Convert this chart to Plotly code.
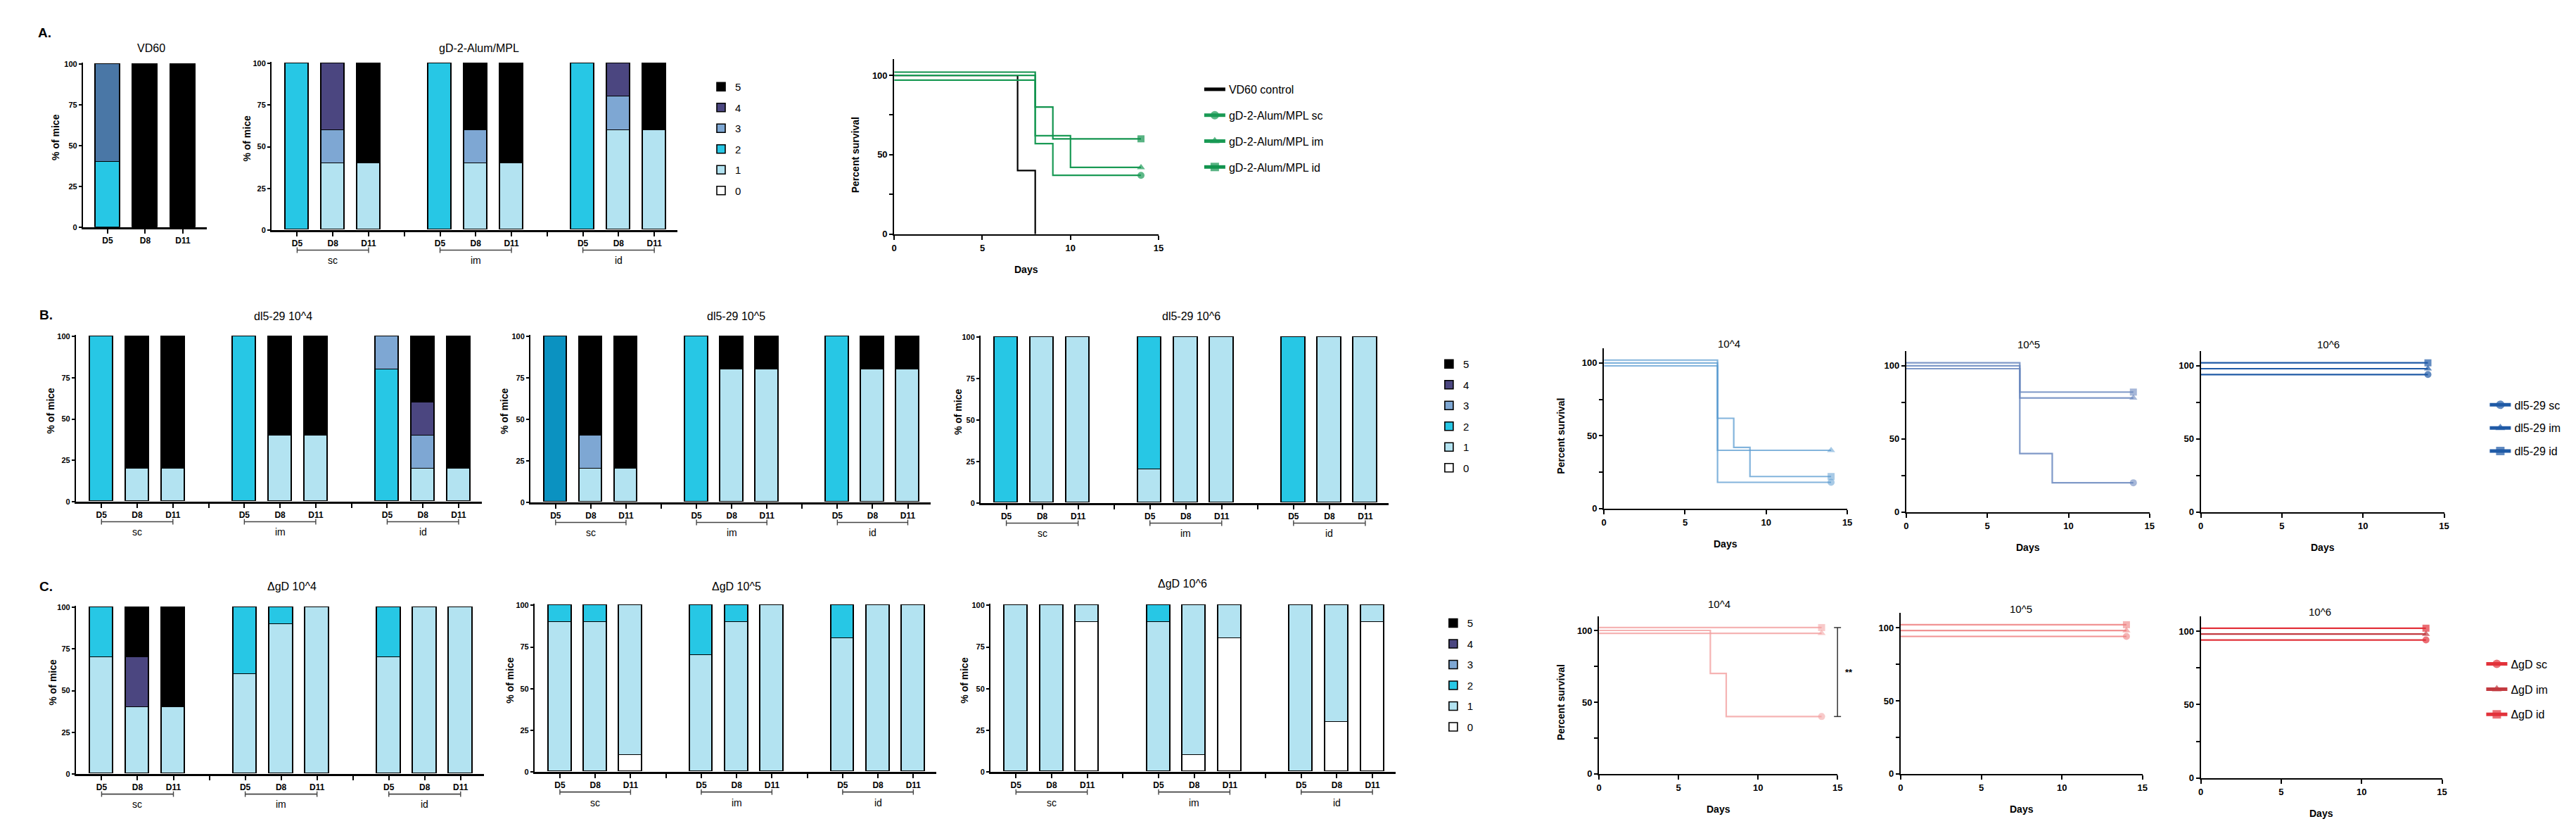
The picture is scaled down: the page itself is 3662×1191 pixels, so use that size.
import plotly.graph_objects as go

W, H = 3662, 1191

# ------------------------------------------------------------------ data
SCORE_LABELS = ["0", "1", "2", "3", "4", "5"]
DAY_LABELS = ["D5", "D8", "D11"]
ROUTE_LABELS = ["sc", "im", "id"]

# % of mice per clinical score (rows = score 0..5)
# columns: D5, D8, D11   (for 9 columns: sc D5-D11, im D5-D11, id D5-D11)
VD60_PCT = [
    [0, 0, 0],
    [0, 0, 0],
    [40, 0, 0],
    [60, 0, 0],
    [0, 0, 0],
    [0, 100, 100],
]
GD2_PCT = [
    [0, 0, 0, 0, 0, 0, 0, 0, 0],
    [0, 40, 40, 0, 40, 40, 0, 60, 60],
    [100, 0, 0, 100, 0, 0, 100, 0, 0],
    [0, 20, 0, 0, 20, 0, 0, 20, 0],
    [0, 40, 0, 0, 0, 0, 0, 20, 0],
    [0, 0, 60, 0, 40, 60, 0, 0, 40],
]
DL_1E4_PCT = [
    [0, 0, 0, 0, 0, 0, 0, 0, 0],
    [0, 20, 20, 0, 40, 40, 0, 20, 20],
    [100, 0, 0, 100, 0, 0, 80, 0, 0],
    [0, 0, 0, 0, 0, 0, 20, 20, 0],
    [0, 0, 0, 0, 0, 0, 0, 20, 0],
    [0, 80, 80, 0, 60, 60, 0, 40, 80],
]
DL_1E5_PCT = [
    [0, 0, 0, 0, 0, 0, 0, 0, 0],
    [0, 20, 20, 0, 80, 80, 0, 80, 80],
    [100, 0, 0, 100, 0, 0, 100, 0, 0],
    [0, 20, 0, 0, 0, 0, 0, 0, 0],
    [0, 0, 0, 0, 0, 0, 0, 0, 0],
    [0, 60, 80, 0, 20, 20, 0, 20, 20],
]
DL_1E6_PCT = [
    [0, 0, 0, 0, 0, 0, 0, 0, 0],
    [0, 100, 100, 20, 100, 100, 0, 100, 100],
    [100, 0, 0, 80, 0, 0, 100, 0, 0],
    [0, 0, 0, 0, 0, 0, 0, 0, 0],
    [0, 0, 0, 0, 0, 0, 0, 0, 0],
    [0, 0, 0, 0, 0, 0, 0, 0, 0],
]
DGD_1E4_PCT = [
    [0, 0, 0, 0, 0, 0, 0, 0, 0],
    [70, 40, 40, 60, 90, 100, 70, 100, 100],
    [30, 0, 0, 40, 10, 0, 30, 0, 0],
    [0, 0, 0, 0, 0, 0, 0, 0, 0],
    [0, 30, 0, 0, 0, 0, 0, 0, 0],
    [0, 30, 60, 0, 0, 0, 0, 0, 0],
]
DGD_1E5_PCT = [
    [0, 0, 10, 0, 0, 0, 0, 0, 0],
    [90, 90, 90, 70, 90, 100, 80, 100, 100],
    [10, 10, 0, 30, 10, 0, 20, 0, 0],
    [0, 0, 0, 0, 0, 0, 0, 0, 0],
    [0, 0, 0, 0, 0, 0, 0, 0, 0],
    [0, 0, 0, 0, 0, 0, 0, 0, 0],
]
DGD_1E6_PCT = [
    [0, 0, 90, 0, 10, 80, 0, 30, 90],
    [100, 100, 10, 90, 90, 20, 100, 70, 10],
    [0, 0, 0, 10, 0, 0, 0, 0, 0],
    [0, 0, 0, 0, 0, 0, 0, 0, 0],
    [0, 0, 0, 0, 0, 0, 0, 0, 0],
    [0, 0, 0, 0, 0, 0, 0, 0, 0],
]

# survival (Kaplan-Meier steps, as drawn incl. GraphPad's small offsets)
A_SURV_NAMES = ["VD60 control", "gD-2-Alum/MPL sc", "gD-2-Alum/MPL im", "gD-2-Alum/MPL id"]
A_SURV_DAYS = [[0, 7, 8], [0, 8, 9, 14], [0, 8, 10, 14], [0, 8, 9, 14]]
A_SURV_PCT = [[100, 40, 0], [97, 57, 37, 37], [100, 62, 42, 42], [102, 80, 60, 60]]

B_SURV_NAMES = ["dl5-29 sc", "dl5-29 im", "dl5-29 id"]
B_SURV_DAYS_1E4 = [[0, 7, 14], [0, 7, 14], [0, 7, 8, 9, 14]]
B_SURV_PCT_1E4 = [[98, 18, 18], [100, 40, 40], [102, 62, 42, 22, 22]]
B_SURV_DAYS_1E5 = [[0, 7, 9, 14], [0, 7, 14], [0, 7, 14]]
B_SURV_PCT_1E5 = [[98, 40, 20, 20], [100, 78, 78], [102, 82, 82]]
B_SURV_DAYS_1E6 = [[0, 14], [0, 14], [0, 14]]
B_SURV_PCT_1E6 = [[94, 94], [98, 98], [102, 102]]

C_SURV_NAMES = ["ΔgD sc", "ΔgD im", "ΔgD id"]
C_SURV_DAYS_1E4 = [[0, 7, 8, 14], [0, 14], [0, 14]]
C_SURV_PCT_1E4 = [[100, 70, 40, 40], [98, 98], [102, 102]]
C_SURV_DAYS_1E5 = [[0, 14], [0, 14], [0, 14]]
C_SURV_PCT_1E5 = [[94, 94], [98, 98], [102, 102]]
C_SURV_DAYS_1E6 = [[0, 14], [0, 14], [0, 14]]
C_SURV_PCT_1E6 = [[94, 94], [98, 98], [102, 102]]
C_SIG_LABEL = "**"

DOSE_TITLES = ["10^4", "10^5", "10^6"]

# ------------------------------------------------------------------ styles
SCORE_COLORS = ["#ffffff", "#b3e3f1", "#27c7e5", "#7ea7d3", "#4b4680", "#000000"]
FONT_N = "Liberation Sans Narrow, Arial Narrow, Liberation Sans, Arial, sans-serif"
FONT_B = "Liberation Sans, Arial, sans-serif"
SYMBOLS3 = ["circle", "triangle-up", "square"]
DAY_MAX = 15

fig = go.Figure()
layout = {}
shapes = []
annotations = []


def xname(i):
    return "x" if i == 1 else f"x{i}"


def yname(i):
    return "y" if i == 1 else f"y{i}"


def px_x(px):
    return px / W


def px_y(py):
    return 1 - py / H


def text(px, py, s, size, family=FONT_N, bold=False, angle=0, xanchor="center", yanchor="middle", color="black"):
    annotations.append(dict(
        x=px_x(px), y=px_y(py), xref="paper", yref="paper", text=s, showarrow=False,
        textangle=angle, xanchor=xanchor, yanchor=yanchor,
        font=dict(size=size, family=family, color=color, weight="bold" if bold else "normal"),
    ))


def bar_panel(idx, pct, left, right, top, bottom, title, title_x, title_y, ylab_x,
              legend=None, overrides=None):
    n = len(pct[0])
    if n == 3:
        xs = [0, 1, 2]
        rng = [-0.66, 2.64]
        tickvals = xs
        ticktext = DAY_LABELS
    else:
        xs = [4 * g + d for g in range(3) for d in range(3)]
        rng = [-0.72, 10.65]
        tickvals = xs + [3, 7]
        ticktext = DAY_LABELS * 3 + ["", ""]
    for s, row in enumerate(pct):
        colors = [SCORE_COLORS[s]] * n
        for (k, ss), c in (overrides or {}).items():
            if ss == s:
                colors[k] = c
        fig.add_trace(go.Bar(
            x=xs, y=row, width=0.65, name=SCORE_LABELS[s],
            marker=dict(color=colors, line=dict(color="black", width=1.6)),
            xaxis=xname(idx), yaxis=yname(idx),
            showlegend=legend is not None, legend=legend or "legend",
            legendgroup=f"{legend}-{s}", legendrank=100 - s, hoverinfo="skip",
        ))
    top_ext = top - 0.008 * (bottom - top)
    layout["xaxis" if idx == 1 else f"xaxis{idx}"] = dict(
        domain=[px_x(left), px_x(right)], range=rng, anchor=yname(idx),
        tickvals=tickvals, ticktext=ticktext, ticks="outside", ticklen=6, tickwidth=1.5,
        tickcolor="black", showline=True, linewidth=3, linecolor="black",
        showgrid=False, zeroline=False, fixedrange=True,
        tickfont=dict(size=12, family=FONT_N, color="black", weight="bold"),
    )
    layout["yaxis" if idx == 1 else f"yaxis{idx}"] = dict(
        domain=[px_y(bottom), px_y(top_ext)], range=[0, 100.8], anchor=xname(idx),
        tickvals=[0, 25, 50, 75, 100], ticks="outside", ticklen=4, tickwidth=1.5,
        tickcolor="black", showline=True, linewidth=1.6, linecolor="black",
        showgrid=False, zeroline=False, fixedrange=True,
        tickfont=dict(size=11, family=FONT_N, color="black", weight="bold"),
    )
    text(title_x, title_y, title, 16)
    text(ylab_x, (top + bottom) / 2 - 12, "% of mice", 14, family=FONT_B, bold=True, angle=-90)
    if n == 9:
        by = bottom + 29
        for g in range(3):
            x0, x1 = 4 * g, 4 * g + 2
            shapes.append(dict(type="line", xref=xname(idx), yref="paper", x0=x0, x1=x1,
                               y0=px_y(by), y1=px_y(by), line=dict(color="#444", width=1.6)))
            for xx in (x0, x1):
                shapes.append(dict(type="line", xref=xname(idx), yref="paper", x0=xx, x1=xx,
                                   y0=px_y(by - 4), y1=px_y(by + 4), line=dict(color="#444", width=1.4)))
            annotations.append(dict(
                x=4 * g + 1, y=px_y(bottom + 44), xref=xname(idx), yref="paper",
                text=ROUTE_LABELS[g], showarrow=False, xanchor="center", yanchor="middle",
                font=dict(size=14, family=FONT_N, color="black"),
            ))


def surv_panel(idx, days_list, pct_list, names, colors, symbols, endmark, left, right, bottom, top100,
               title=None, title_xy=None, ylab_x=None, legend=None):
    for j in range(len(days_list)):
        d = days_list[j]
        p = pct_list[j]
        sizes = [0] * (len(d) - 1) + [10 if endmark[j] else 0]
        fig.add_trace(go.Scatter(
            x=d, y=p, mode="lines+markers", name=names[j],
            line=dict(shape="hv", color=colors[j], width=2.2),
            marker=dict(symbol=symbols[j], size=sizes, color=colors[j], line=dict(width=0)),
            cliponaxis=False, xaxis=xname(idx), yaxis=yname(idx),
            showlegend=legend is not None, legend=legend or "legend",
            legendgroup=f"{legend}-s{j}", legendrank=j + 1, hoverinfo="skip",
        ))
    per = bottom - top100
    top = bottom - 1.1 * per
    layout[f"xaxis{idx}"] = dict(
        domain=[px_x(left), px_x(right)], range=[0, DAY_MAX], anchor=yname(idx),
        tickvals=[0, 5, 10, 15], ticks="outside", ticklen=6, tickwidth=1.8, tickcolor="black",
        showline=True, linewidth=2.4, linecolor="black", showgrid=False, zeroline=False,
        fixedrange=True, tickfont=dict(size=13, family=FONT_N, color="black", weight="bold"),
    )
    layout[f"yaxis{idx}"] = dict(
        domain=[px_y(bottom), px_y(top)], range=[0, 110], anchor=xname(idx),
        tickvals=[0, 25, 50, 75, 100], ticktext=["0", "", "50", "", "100"],
        ticks="outside", ticklen=5, tickwidth=1.8, tickcolor="black",
        showline=True, linewidth=2, linecolor="black", showgrid=False, zeroline=False,
        fixedrange=True, tickfont=dict(size=13, family=FONT_N, color="black", weight="bold"),
    )
    text((left + right) / 2, bottom + 51, "Days", 14, bold=True)
    if title:
        text(title_xy[0], title_xy[1], title, 15)
    if ylab_x is not None:
        text(ylab_x, (bottom + top100) / 2, "Percent survival", 14, family=FONT_B, bold=True, angle=-90)


# ------------------------------------------------------------------ panel A
text(52, 35, "A.", 19, family=FONT_B, bold=True)
bar_panel(1, VD60_PCT, 106, 283, 80, 314, "VD60", 204, 57, 67,
          overrides={(0, 3): "#4a77a6"})
bar_panel(2, GD2_PCT, 375, 954, 79, 318, "gD-2-Alum/MPL", 671, 57, 340, legend="legend")
surv_panel(3, A_SURV_DAYS, A_SURV_PCT, A_SURV_NAMES,
           ["#000000", "#1a9a55", "#1a9a55", "#12934e"],
           ["circle", "circle", "triangle-up", "square"], [False, True, True, True],
           1263, 1640, 324, 96, ylab_x=1208, legend="legend2")

# ------------------------------------------------------------------ panel B
text(54, 440, "B.", 19, family=FONT_B, bold=True)
bar_panel(4, DL_1E4_PCT, 96, 675, 471, 708, "dl5-29 " + DOSE_TITLES[0], 392, 442, 60, legend="legend3")
bar_panel(5, DL_1E5_PCT, 744, 1315, 471, 709, "dl5-29 " + DOSE_TITLES[1], 1038, 442, 707,
          overrides={(0, 2): "#0b92c1"})
bar_panel(6, DL_1E6_PCT, 1386, 1968, 472, 710, "dl5-29 " + DOSE_TITLES[2], 1687, 442, 1354)
surv_panel(7, B_SURV_DAYS_1E4, B_SURV_PCT_1E4, B_SURV_NAMES,
           ["rgba(90,155,208,0.75)"] * 3, SYMBOLS3, [True] * 3,
           2275, 2622, 718, 509, DOSE_TITLES[0], (2453, 481), ylab_x=2214)
surv_panel(8, B_SURV_DAYS_1E5, B_SURV_PCT_1E5, B_SURV_NAMES,
           ["rgba(105,135,190,0.85)"] * 3, SYMBOLS3, [True] * 3,
           2706, 3053, 723, 513, DOSE_TITLES[1], (2881, 482))
surv_panel(9, B_SURV_DAYS_1E6, B_SURV_PCT_1E6, B_SURV_NAMES,
           ["#1f5aa6"] * 3, SYMBOLS3, [True] * 3,
           3126, 3473, 723, 513, DOSE_TITLES[2], (3308, 482), legend="legend4")

# ------------------------------------------------------------------ panel C
text(54, 830, "C.", 19, family=FONT_B, bold=True)
bar_panel(10, DGD_1E4_PCT, 96, 678, 860, 1099, "ΔgD " + DOSE_TITLES[0], 404, 830, 63, legend="legend5")
bar_panel(11, DGD_1E5_PCT, 750, 1323, 857, 1096, "ΔgD " + DOSE_TITLES[1], 1038, 830, 715)
bar_panel(12, DGD_1E6_PCT, 1400, 1978, 857, 1096, "ΔgD " + DOSE_TITLES[2], 1674, 826, 1363)
surv_panel(13, C_SURV_DAYS_1E4, C_SURV_PCT_1E4, C_SURV_NAMES,
           ["rgba(243,160,160,0.8)"] * 3, SYMBOLS3, [True] * 3,
           2268, 2608, 1099, 893, DOSE_TITLES[0], (2439, 855), ylab_x=2214)
surv_panel(14, C_SURV_DAYS_1E5, C_SURV_PCT_1E5, C_SURV_NAMES,
           ["rgba(238,128,128,0.85)"] * 3, SYMBOLS3, [True] * 3,
           2698, 3043, 1099, 889, DOSE_TITLES[1], (2870, 862))
surv_panel(15, C_SURV_DAYS_1E6, C_SURV_PCT_1E6, C_SURV_NAMES,
           ["#e2323a", "#c23a40", "#e2323a"], SYMBOLS3, [True] * 3,
           3126, 3470, 1105, 894, DOSE_TITLES[2], (3296, 866), legend="legend6")

# significance bracket (C, 10^4): from sc end value to id end value at day axis end
c_left, c_right, c_bottom, c_top100 = 2268, 2608, 1099, 893
y_lo = C_SURV_PCT_1E4[0][-1]
y_hi = C_SURV_PCT_1E4[2][-1]


def c_ypx(v):
    return c_bottom - v / 100 * (c_bottom - c_top100)


shapes.append(dict(type="line", xref="paper", yref="paper", x0=px_x(c_right), x1=px_x(c_right),
                   y0=px_y(c_ypx(y_lo)), y1=px_y(c_ypx(y_hi)), line=dict(color="#333", width=1.5)))
for v in (y_lo, y_hi):
    shapes.append(dict(type="line", xref="paper", yref="paper", x0=px_x(c_right - 5), x1=px_x(c_right + 5),
                       y0=px_y(c_ypx(v)), y1=px_y(c_ypx(v)), line=dict(color="#333", width=1.5)))
text(c_right + 16, c_ypx((y_lo + y_hi) / 2), C_SIG_LABEL, 13, bold=True)

# ------------------------------------------------------------------ legends
bar_leg = dict(font=dict(size=15, family=FONT_N, color="black"), traceorder="grouped",
               tracegroupgap=7, bgcolor="rgba(0,0,0,0)", xanchor="left", yanchor="top",
               itemclick=False, itemdoubleclick=False)
surv_leg = dict(font=dict(size=16, family=FONT_N, color="black"), traceorder="grouped",
                itemsizing="constant", bgcolor="rgba(0,0,0,0)", xanchor="left", yanchor="top",
                itemclick=False, itemdoubleclick=False)

layout["legend"] = dict(bar_leg, x=px_x(996), y=px_y(96))
layout["legend3"] = dict(bar_leg, x=px_x(2034), y=px_y(494))
layout["legend5"] = dict(bar_leg, x=px_x(2040), y=px_y(866))
layout["legend2"] = dict(surv_leg, x=px_x(1700), y=px_y(99), tracegroupgap=13)
layout["legend4"] = dict(surv_leg, x=px_x(3533), y=px_y(552), tracegroupgap=9)
layout["legend6"] = dict(surv_leg, x=px_x(3528), y=px_y(924), tracegroupgap=12)

fig.update_layout(
    width=W, height=H, margin=dict(l=0, r=0, t=0, b=0),
    paper_bgcolor="white", plot_bgcolor="white",
    barmode="stack", bargap=0,
    shapes=shapes, annotations=annotations,
    font=dict(family=FONT_N, color="black"),
    **layout,
)

fig.write_html("out.html")
